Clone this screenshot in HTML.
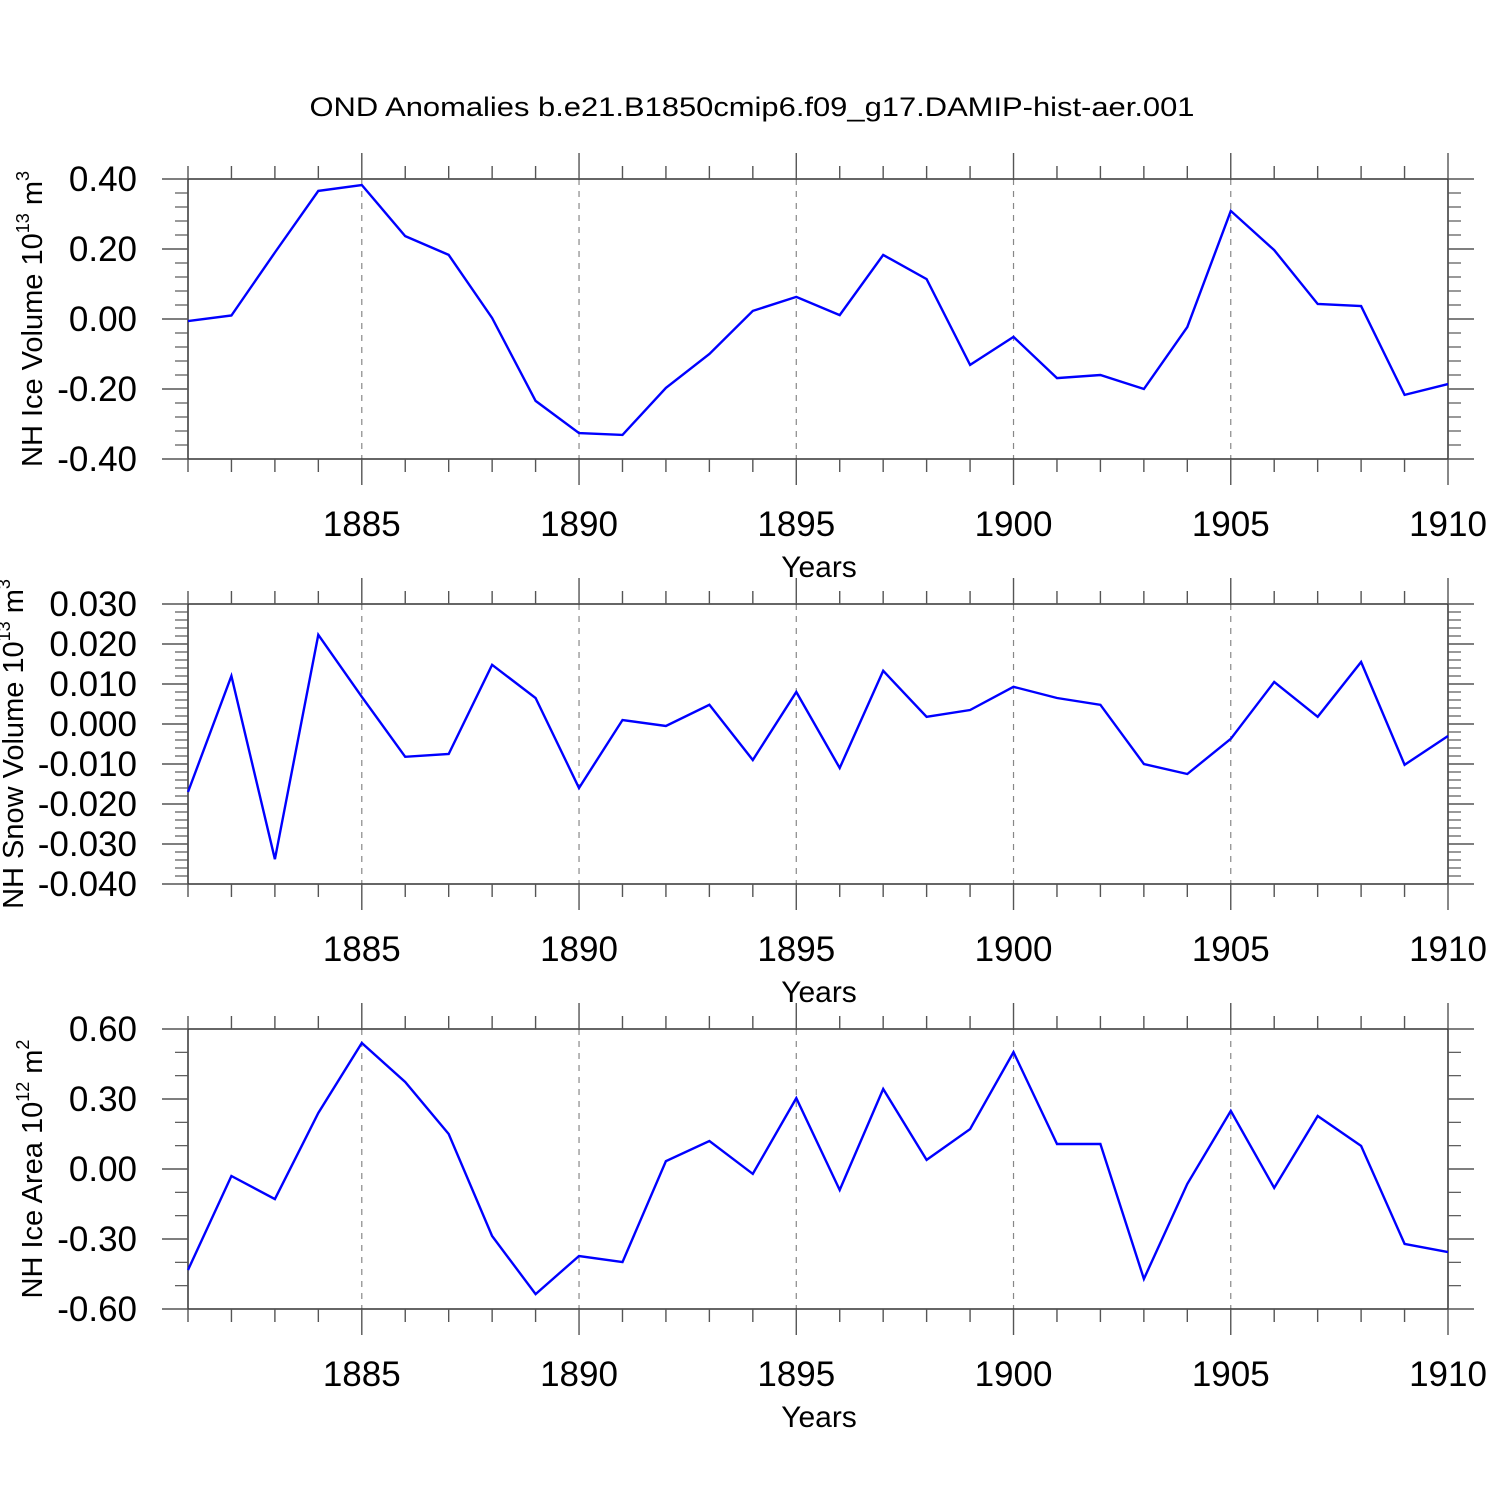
<!DOCTYPE html>
<html><head><meta charset="utf-8"><style>
html,body{margin:0;padding:0;background:#fff;}
svg{display:block;font-family:"Liberation Sans",sans-serif;}
</style></head><body>
<svg id="chart" width="1500" height="1500" viewBox="0 0 1500 1500" xmlns="http://www.w3.org/2000/svg">
<text x="752" y="116" font-size="27" text-anchor="middle" textLength="885" lengthAdjust="spacingAndGlyphs">OND Anomalies b.e21.B1850cmip6.f09_g17.DAMIP-hist-aer.001</text>
</svg>
<script>
const years = [1881,1882,1883,1884,1885,1886,1887,1888,1889,1890,1891,1892,1893,1894,1895,1896,1897,1898,1899,1900,1901,1902,1903,1904,1905,1906,1907,1908,1909,1910];
const xTickLabels = [1885,1890,1895,1900,1905,1910];
const iceVolume = [-0.006,0.01,0.19,0.366,0.383,0.237,0.183,0.003,-0.234,-0.326,-0.331,-0.197,-0.1,0.023,0.063,0.011,0.183,0.114,-0.131,-0.051,-0.169,-0.16,-0.2,-0.023,0.309,0.197,0.043,0.037,-0.217,-0.186];
const snowVolume = [-0.017,0.012,-0.0338,0.0223,0.0068,-0.0082,-0.0075,0.0148,0.0065,-0.016,0.001,-0.0005,0.0048,-0.009,0.008,-0.011,0.0133,0.0018,0.0035,0.0093,0.0065,0.0048,-0.01,-0.0125,-0.0037,0.0105,0.0018,0.0155,-0.0102,-0.003];
const iceArea = [-0.433,-0.03,-0.129,0.24,0.54,0.373,0.15,-0.287,-0.536,-0.373,-0.399,0.034,0.12,-0.021,0.304,-0.09,0.343,0.039,0.171,0.501,0.107,0.107,-0.471,-0.064,0.249,-0.081,0.227,0.099,-0.321,-0.356];
const iceVolTicks = ["0.40","0.20","0.00","-0.20","-0.40"];
const snowVolTicks = ["0.030","0.020","0.010","0.000","-0.010","-0.020","-0.030","-0.040"];
const iceAreaTicks = ["0.60","0.30","0.00","-0.30","-0.60"];

const NS="http://www.w3.org/2000/svg";
const svg=document.getElementById('chart');
const X0=188,X1=1448;
const xs=y=>X0+(y-1881)/(1910-1881)*(X1-X0);
function mk(tag,attrs,parent){const e=document.createElementNS(NS,tag);for(const k in attrs)e.setAttribute(k,attrs[k]);(parent||svg).appendChild(e);return e;}

function panel(name,top,ticks,minorPer,data,t1,exp,t2,sup,titleX){
  const g=mk('g',{});
  
  
  const bot=top+280;
  const vmax=parseFloat(ticks[0]),vmin=parseFloat(ticks[ticks.length-1]);
  const ys=v=>top+(vmax-v)/(vmax-vmin)*280;
  const tc='#555';
  xTickLabels.forEach(y=>{if(y<1910)mk('line',{x1:xs(y),x2:xs(y),y1:top,y2:bot,stroke:'#888','stroke-width':1.2,'stroke-dasharray':'6,6'},g);});
  const fr=mk('rect',{x:X0,y:top,width:X1-X0,height:280,fill:'none',stroke:'#333','stroke-width':1.5},g);
  
  
  years.forEach(y=>{
    const major=xTickLabels.includes(y);
    const L=major?26:13;
    mk('line',{x1:xs(y),x2:xs(y),y1:top-L,y2:top,stroke:tc,'stroke-width':1.4},g);
    mk('line',{x1:xs(y),x2:xs(y),y1:bot,y2:bot+L,stroke:tc,'stroke-width':1.4},g);
  });
  xTickLabels.forEach(y=>{
    const t=mk('text',{x:xs(y),y:bot+77,'font-size':35,'text-anchor':'middle'},g);
    t.textContent=y;
    
    
  });
  const xt=mk('text',{x:819,y:bot+118,'font-size':30,'text-anchor':'middle'},g);
  xt.textContent='Years';
  
  
  const n=ticks.length;
  for(let i=0;i<n;i++){
    const v=parseFloat(ticks[i]),yy=ys(v);
    mk('line',{x1:X0-26,x2:X0,y1:yy,y2:yy,stroke:tc,'stroke-width':1.4},g);
    mk('line',{x1:X1,x2:X1+26,y1:yy,y2:yy,stroke:tc,'stroke-width':1.4},g);
    const t=mk('text',{x:137,y:yy+12,'font-size':35,'text-anchor':'end'},g);
    t.textContent=ticks[i];
    
    
    if(i<n-1){
      const step=(parseFloat(ticks[i])-parseFloat(ticks[i+1]))/(minorPer+1);
      for(let k=1;k<=minorPer;k++){
        const my=ys(v-step*k);
        mk('line',{x1:X0-13,x2:X0,y1:my,y2:my,stroke:tc,'stroke-width':1.2},g);
        mk('line',{x1:X1,x2:X1+13,y1:my,y2:my,stroke:tc,'stroke-width':1.2},g);
      }
    }
  }
  const cy=top+140;
  const yt=mk('text',{x:0,y:0,'font-size':29,'text-anchor':'middle',transform:`translate(${titleX},${cy}) rotate(-90)`},g);
  
  
  yt.appendChild(document.createTextNode(t1));
  const s1=mk('tspan',{'font-size':18,dy:-13},yt);s1.textContent=exp;
  const s2=mk('tspan',{dy:13},yt);s2.textContent=t2;
  const s3=mk('tspan',{'font-size':18,dy:-13},yt);s3.textContent=sup;
  const pts=data.map((v,i)=>xs(years[i]).toFixed(1)+','+ys(v).toFixed(1)).join(' ');
  const pl=mk('polyline',{points:pts,fill:'none',stroke:'#0000ff','stroke-width':2.4,'stroke-linejoin':'miter'},g);
  
  
}
panel('ice-volume',179,iceVolTicks,4,iceVolume,'NH Ice Volume 10','13',' m','3',42);
panel('snow-volume',604,snowVolTicks,4,snowVolume,'NH Snow Volume 10','13',' m','3',23);
panel('ice-area',1029,iceAreaTicks,2,iceArea,'NH Ice Area 10','12',' m','2',42);
</script>
</body></html>
